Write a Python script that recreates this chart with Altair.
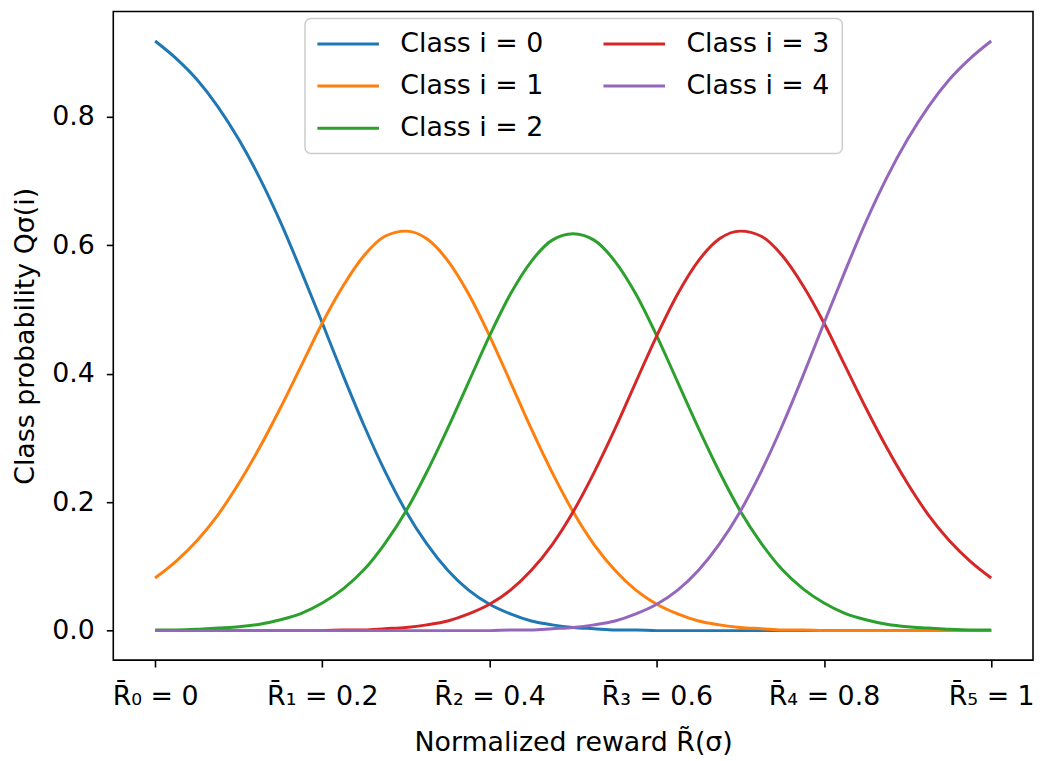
import json
import altair as alt
import pandas as pd

# ---- data ----
x_values = [0.000, 0.025, 0.050, 0.075, 0.100, 0.125, 0.150, 0.175, 0.200, 0.225,
            0.250, 0.275, 0.300, 0.325, 0.350, 0.375, 0.400, 0.425, 0.450, 0.475,
            0.500, 0.525, 0.550, 0.575, 0.600, 0.625, 0.650, 0.675, 0.700, 0.725,
            0.750, 0.775, 0.800, 0.825, 0.850, 0.875, 0.900, 0.925, 0.950, 0.975, 1.000]

class_0 = [0.918, 0.891, 0.858, 0.816, 0.765, 0.705, 0.636, 0.559, 0.479, 0.397,
           0.319, 0.248, 0.186, 0.135, 0.094, 0.063, 0.041, 0.026, 0.015, 0.009,
           0.005, 0.003, 0.001, 0.001, 0.000, 0.000, 0.000, 0.000, 0.000, 0.000,
           0.000, 0.000, 0.000, 0.000, 0.000, 0.000, 0.000, 0.000, 0.000, 0.000, 0.000]
class_1 = [0.082, 0.108, 0.140, 0.180, 0.229, 0.285, 0.347, 0.413, 0.479, 0.537,
           0.584, 0.614, 0.622, 0.610, 0.576, 0.524, 0.459, 0.387, 0.314, 0.246,
           0.185, 0.134, 0.094, 0.063, 0.041, 0.026, 0.015, 0.009, 0.005, 0.003,
           0.001, 0.001, 0.000, 0.000, 0.000, 0.000, 0.000, 0.000, 0.000, 0.000, 0.000]
class_2 = [0.001, 0.001, 0.002, 0.004, 0.006, 0.010, 0.017, 0.027, 0.043, 0.065,
           0.095, 0.136, 0.186, 0.247, 0.315, 0.387, 0.459, 0.524, 0.575, 0.608,
           0.618, 0.608, 0.575, 0.524, 0.459, 0.387, 0.315, 0.247, 0.186, 0.136,
           0.095, 0.065, 0.043, 0.027, 0.017, 0.010, 0.006, 0.004, 0.002, 0.001, 0.001]
class_3 = [0.000, 0.000, 0.000, 0.000, 0.000, 0.000, 0.000, 0.000, 0.000, 0.001,
           0.001, 0.003, 0.005, 0.009, 0.015, 0.026, 0.041, 0.063, 0.094, 0.134,
           0.185, 0.246, 0.314, 0.387, 0.459, 0.524, 0.576, 0.610, 0.622, 0.614,
           0.584, 0.537, 0.479, 0.413, 0.347, 0.285, 0.229, 0.180, 0.140, 0.108, 0.082]
class_4 = [0.000, 0.000, 0.000, 0.000, 0.000, 0.000, 0.000, 0.000, 0.000, 0.000,
           0.000, 0.000, 0.000, 0.000, 0.000, 0.000, 0.000, 0.001, 0.001, 0.003,
           0.005, 0.009, 0.015, 0.026, 0.041, 0.063, 0.094, 0.135, 0.186, 0.248,
           0.319, 0.397, 0.479, 0.559, 0.636, 0.705, 0.765, 0.816, 0.858, 0.891, 0.918]

series_names = ["Class i = 0", "Class i = 1", "Class i = 2", "Class i = 3", "Class i = 4"]
series_colors = ["#1f77b4", "#ff7f0e", "#2ca02c", "#d62728", "#9467bd"]

x_ticks = [0.0, 0.2, 0.4, 0.6, 0.8, 1.0]
x_tick_labels = ["R\u0304\u2080 = 0", "R\u0304\u2081 = 0.2", "R\u0304\u2082 = 0.4",
                 "R\u0304\u2083 = 0.6", "R\u0304\u2084 = 0.8", "R\u0304\u2085 = 1"]
y_ticks = [0.0, 0.2, 0.4, 0.6, 0.8]

x_title = "Normalized reward R\u0303(\u03c3)"
y_title = "Class probability Q\u03c3(i)"

# ---- build table ----
rows = []
for order, (name, ys) in enumerate(zip(series_names, [class_0, class_1, class_2, class_3, class_4])):
    for x, y in zip(x_values, ys):
        rows.append({"x": x, "y": y, "cls": name, "order": order})
df = pd.DataFrame(rows)

label_expr = (json.dumps(x_tick_labels, ensure_ascii=False)
              + "[indexof(" + json.dumps(x_ticks) + ", datum.value)]")

FONT = "DejaVu Sans"

chart = alt.Chart(df).mark_line(strokeWidth=3, interpolate="monotone").encode(
    x=alt.X("x:Q",
            scale=alt.Scale(domain=[-0.05, 1.05], nice=False, zero=False),
            axis=alt.Axis(values=x_ticks, labelExpr=label_expr, title=x_title,
                          labelPadding=17, titlePadding=20)),
    y=alt.Y("y:Q",
            scale=alt.Scale(domain=[-0.0459, 0.9639], nice=False, zero=False),
            axis=alt.Axis(values=y_ticks, format=".1f", title=y_title,
                          labelPadding=12, titlePadding=12)),
    color=alt.Color("cls:N",
                    scale=alt.Scale(domain=series_names, range=series_colors),
                    legend=alt.Legend(title=None, orient="none", legendX=193, legendY=7,
                                      columns=2, columnPadding=53, rowPadding=14.5,
                                      symbolType="M-1.083,0H4.083", symbolSize=576,
                                      symbolStrokeWidth=3, labelOffset=57,
                                      padding=12, fillColor="white",
                                      strokeColor="#cccccc", cornerRadius=6)),
    order=alt.Order("order:Q"),
    detail="cls:N",
).properties(
    width=926,
    height=653,
    autosize=alt.AutoSizeParams(type="none"),
    padding={"left": 106, "top": 1, "right": 2, "bottom": 97},
).configure_view(
    stroke="black", strokeWidth=1.6
).configure_axis(
    domain=False, grid=False,
    tickColor="black", tickWidth=1.6, tickSize=7,
    labelFont=FONT, labelFontSize=27, labelColor="black",
    titleFont=FONT, titleFontSize=27, titleFontWeight="normal", titleColor="black",
).configure_legend(
    labelFont=FONT, labelFontSize=27, labelColor="black", strokeWidth=1.5,
)

chart.save("out.html", embed_options={"renderer": "svg", "actions": False})
